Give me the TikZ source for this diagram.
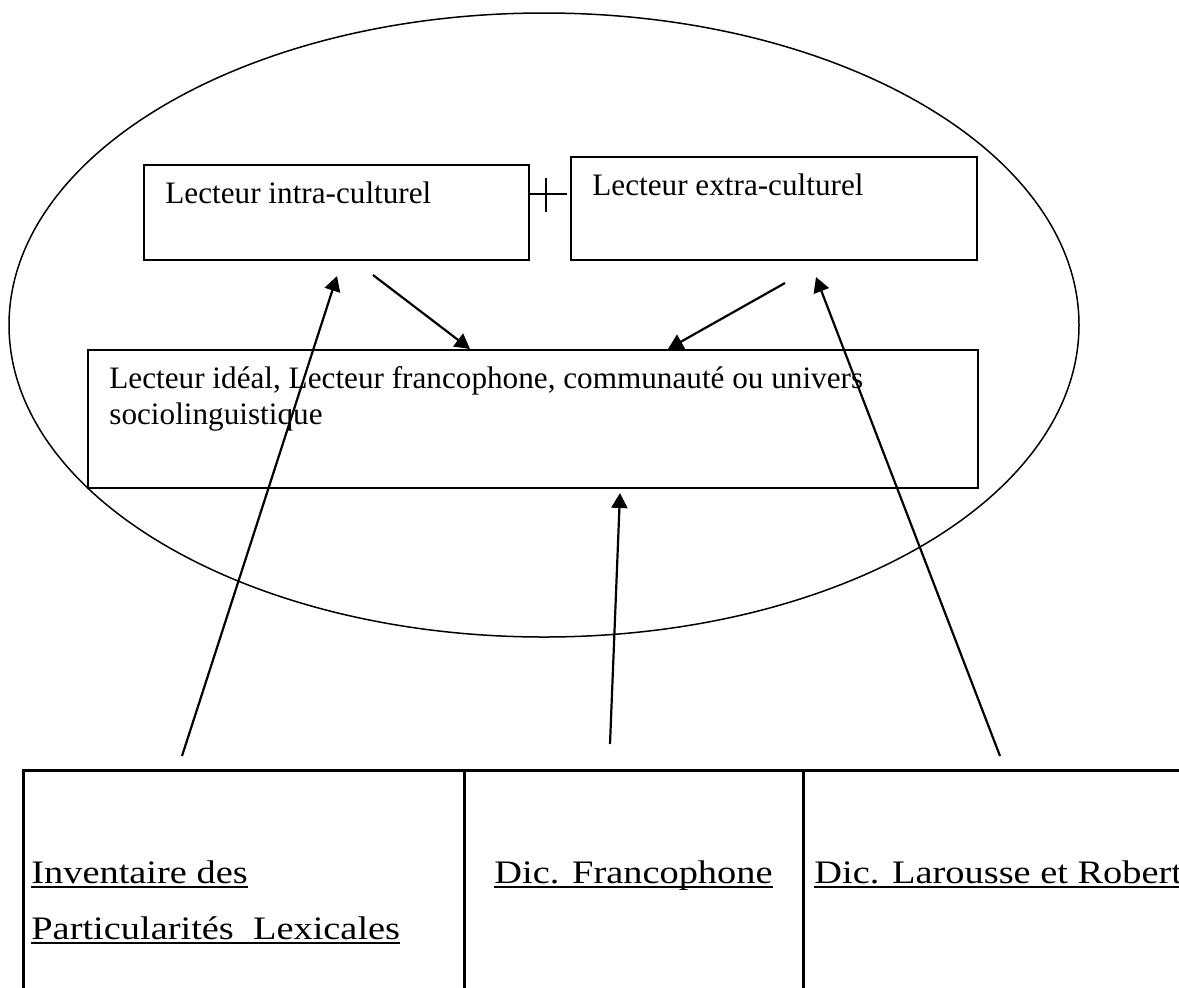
\documentclass[tikz,border=0pt]{standalone}
\usepackage{fontspec}
\setmainfont{Liberation Serif}
\newfontfamily\dicfont[FakeStretch=1.17]{Liberation Serif}
\usetikzlibrary{positioning}
\usetikzlibrary{calc}
\usetikzlibrary{arrows.meta}
\usetikzlibrary{shapes.geometric}

\begin{document}
\begin{tikzpicture}[x=0.5pt,y=-0.5pt,
        box/.style={draw, line width=1, rectangle, inner sep=0, anchor=north west},
        cell/.style={draw, line width=1.25, rectangle, inner sep=0, anchor=north west, minimum height=130pt},
        lbl/.style={inner sep=0, anchor=base west, font=\fontsize{15.6}{18}\selectfont},
        dic/.style={inner sep=0, anchor=base west, font=\dicfont\fontsize{16.4}{20}\selectfont},
        fleche/.style={-{Triangle[length=7.5pt,width=8pt]}, line width=1.1}]
        \useasboundingbox (0,0) rectangle (1179,987);
        % nodes %
        \node[draw, ellipse, line width=0.75, inner sep=0, minimum width=535pt, minimum height=312pt] (monde) at (544,325) {};
        \node[box, minimum width=192.5pt, minimum height=47.5pt] (intra) at (143,164) {};
        \node[box, minimum width=203pt, minimum height=51.5pt] (extra) at (570,156) {};
        \node[box, minimum width=445pt, minimum height=69pt] (ideal) at (87,349) {};
        \node[lbl] (ti) at (165,203) {Lecteur intra-culturel};
        \node[lbl] (te) at (592,195) {Lecteur extra-culturel};
        \node[lbl] (tl) at (109,388) {Lecteur idéal, Lecteur francophone, communauté ou univers};
        \node[lbl] (tl2) at (109,424) {sociolinguistique};
        \coordinate (plus) at (546,194);
        % table %
        \node[cell, minimum width=220.5pt] (inv) at (22,769) {};
        \node[cell, minimum width=169.5pt] (fra) at (463,769) {};
        \node[cell, minimum width=199pt] (lar) at (802,769) {};
        \node[dic] (d1) at (31,883) {Inventaire des};
        \node[dic] (d2) at (31,939) {Particularités~ Lexicales};
        \node[dic] (d3) at (494,883) {Dic. Francophone};
        \node[dic] (d4) at (814,883) {Dic. Larousse et Robert};
        \foreach \d in {d1,d2,d3,d4}
            \draw[line width=1] ([yshift=-2pt]\d.base west) -- ([yshift=-2pt]\d.base east);
        % edges %
        \draw[line width=1] (intra.east |- plus) -- ++(37,0);
        \draw[line width=1] (plus) ++(0,-16) -- ++(0,34);
        \coordinate (s1) at (373,275);
        \coordinate (s2) at (785,283);
        \coordinate (h1) at (337,276);
        \coordinate (h2) at (816,277);
        \draw[fleche] (s1) -- ($(ideal.north west)+(383,0)$);
        \draw[fleche] (s2) -- ($(ideal.north west)+(581,0)$);
        \draw[fleche] ($(inv.north west)+(160,-13)$) -- (h1);
        \draw[fleche] ($(fra.north west)+(147,-25)$) -- ($(ideal.south west)+(533,4)$);
        \draw[fleche] ($(lar.north west)+(198,-13)$) -- (h2);
\end{tikzpicture}
\end{document}
